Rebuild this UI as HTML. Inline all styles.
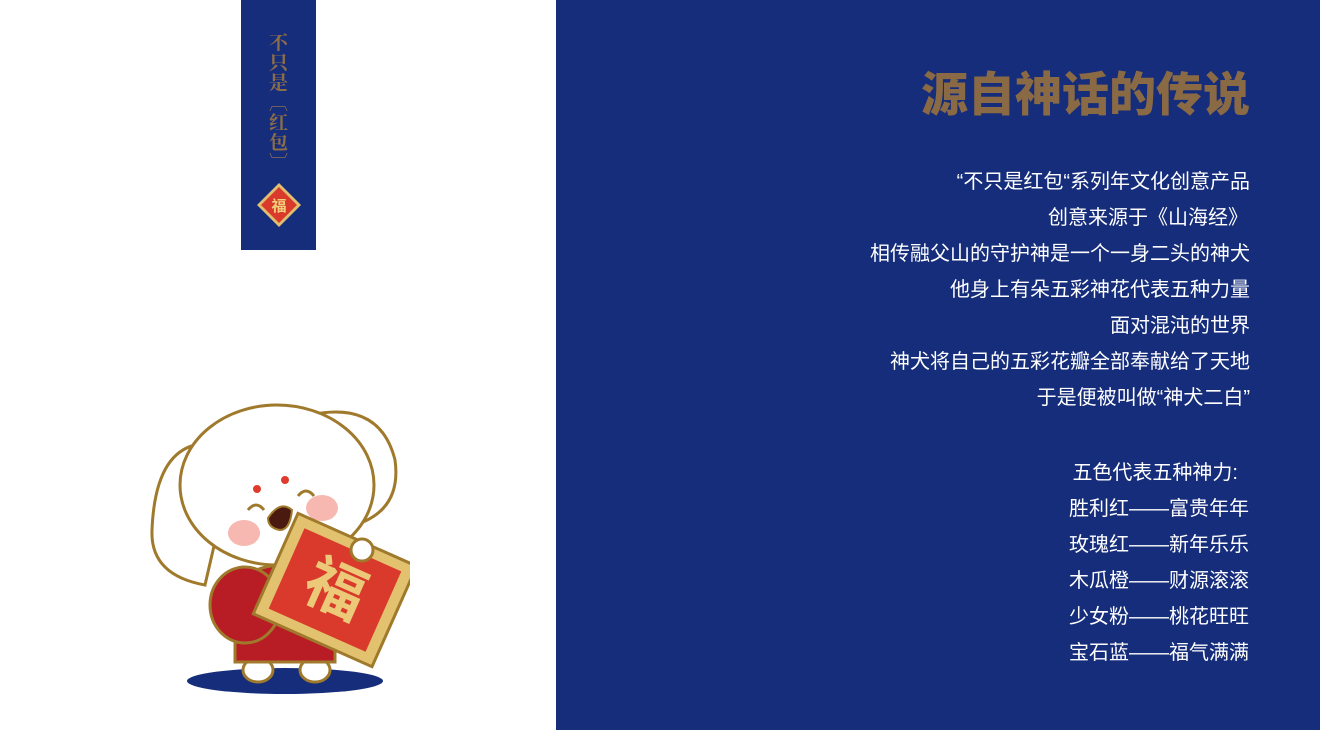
<!DOCTYPE html>
<html><head><meta charset="utf-8"><style>
body{margin:0;width:1320px;height:730px;position:relative;background:#fff;overflow:hidden;font-family:"Liberation Sans","Noto Sans CJK SC",sans-serif}
#panel{position:absolute;left:556px;top:0;width:764px;height:730px;background:#152d7a}
#bar{position:absolute;left:241px;top:0;width:75px;height:250px;background:#152d7a}
.vt{position:absolute;left:0;width:75px;text-align:center;color:#8b6d4a;font-family:"Noto Serif CJK SC",serif;font-size:19px;line-height:20px;font-weight:bold}
h1{position:absolute;right:70px;top:63px;margin:0;font-size:47px;line-height:64px;color:#8a6a45;font-weight:900;letter-spacing:0px}
.ln{position:absolute;right:70px;color:#fff;font-size:20px;line-height:24px;white-space:nowrap}
</style></head><body>
<div id="bar">
 <div class="vt" style="top:32px">不<br>只<br>是<br>︹<br>红<br>包<br>︺</div>
 <svg style="position:absolute;left:15px;top:182px" width="46" height="46">
  <polygon points="23,1 45,23 23,45 1,23" fill="#e0c070"/>
  <polygon points="23,5 41,23 23,41 5,23" fill="#d93a2b"/>
  <text x="23" y="29" text-anchor="middle" font-size="15" fill="#f1d27a" font-family="Noto Sans CJK SC,sans-serif" font-weight="bold">福</text>
 </svg>
</div>
<svg style="position:absolute;left:140px;top:400px" width="270" height="300">
 <ellipse cx="145" cy="281" rx="98" ry="13" fill="#152d7a"/>
 <ellipse cx="118" cy="270" rx="15" ry="12" fill="#fff" stroke="#a07a2c" stroke-width="3"/>
 <ellipse cx="175" cy="270" rx="15" ry="12" fill="#fff" stroke="#a07a2c" stroke-width="3"/>
 <path d="M95,262 L95,200 Q100,165 145,165 Q190,165 195,200 L195,262 Z" fill="#b81c25" stroke="#a07a2c" stroke-width="3"/>
 <ellipse cx="105" cy="205" rx="35" ry="38" fill="#b81c25" stroke="#a07a2c" stroke-width="3"/>
 <path d="M55,45 Q15,55 12,130 Q10,175 65,185 L80,120 Z" fill="#fff" stroke="#a07a2c" stroke-width="3"/>
 <path d="M170,15 Q240,0 255,60 Q262,110 215,125 L190,60 Z" fill="#fff" stroke="#a07a2c" stroke-width="3"/>
 <ellipse cx="137" cy="85" rx="97" ry="80" fill="#fff" stroke="#a07a2c" stroke-width="3"/>
 <circle cx="117" cy="89" r="4" fill="#e03a2e"/><circle cx="145" cy="80" r="4" fill="#e03a2e"/>
 <ellipse cx="104" cy="133" rx="16" ry="13" fill="#f6b8b0"/><ellipse cx="182" cy="108" rx="16" ry="13" fill="#f6b8b0"/>
 <path d="M128,118 Q140,100 152,110 Q150,130 140,130 Q128,128 128,118Z" fill="#4a1a10" stroke="#a07a2c" stroke-width="2"/>
 <path d="M108,110 q8,-10 16,0 M158,96 q8,-10 16,0" fill="none" stroke="#a07a2c" stroke-width="3"/>
 <g transform="rotate(24 195 190)">
  <rect x="130" y="135" width="130" height="110" fill="#e2c26f" stroke="#a07a2c" stroke-width="3"/>
  <rect x="142" y="146" width="106" height="88" fill="#d93a2b"/>
  <text x="195" y="210" text-anchor="middle" font-size="60" fill="#ecc978" font-family="Noto Sans CJK SC,sans-serif" font-weight="bold">福</text>
 </g>
 <circle cx="222" cy="150" r="11" fill="#fff" stroke="#a07a2c" stroke-width="3"/>
</svg>
<div id="panel"></div>
<h1>源自神话的传说</h1>
<div class="ln" style="top:170px">“不只是红包“系列年文化创意产品</div>
<div class="ln" style="top:206px;right:72px">创意来源于《山海经》</div>
<div class="ln" style="top:242px">相传融父山的守护神是一个一身二头的神犬</div>
<div class="ln" style="top:278px">他身上有朵五彩神花代表五种力量</div>
<div class="ln" style="top:314px">面对混沌的世界</div>
<div class="ln" style="top:350px">神犬将自己的五彩花瓣全部奉献给了天地</div>
<div class="ln" style="top:386px">于是便被叫做“神犬二白”</div>
<div class="ln" style="top:461px;right:82px">五色代表五种神力:</div>
<div class="ln" style="top:497px;right:71px">胜利红——富贵年年</div>
<div class="ln" style="top:533px;right:71px">玫瑰红——新年乐乐</div>
<div class="ln" style="top:569px;right:71px">木瓜橙——财源滚滚</div>
<div class="ln" style="top:605px;right:71px">少女粉——桃花旺旺</div>
<div class="ln" style="top:641px;right:71px">宝石蓝——福气满满</div>
</body></html>
